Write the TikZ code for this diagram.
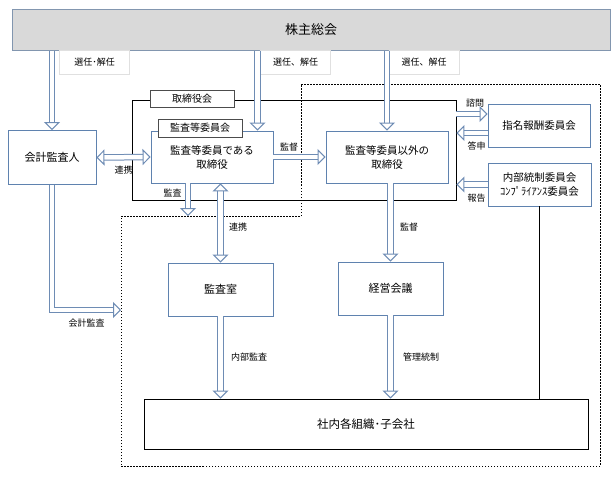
\documentclass[tikz,border=0pt]{standalone}
\usepackage{fontspec}
\setmainfont{Noto Sans CJK JP}
\usepackage{tikz}
\usetikzlibrary{arrows.meta}

\definecolor{arrblue}{RGB}{110,140,180}
\definecolor{boxblue}{RGB}{95,130,175}
\definecolor{shgray}{RGB}{217,217,217}
\definecolor{shline}{RGB}{130,150,175}

\tikzset{
	hollow/.style={draw=arrblue, line width=1pt, double=white, double distance=4.5pt, -{Triangle[open, length=8pt, width=16pt]}},
	hollowboth/.style={hollow, {Triangle[open, length=8pt, width=16pt]}-{Triangle[open, length=8pt, width=16pt]}},
	bluebox/.style={draw=boxblue, line width=.9pt, align=center, inner sep=0pt, font=\fontsize{10.5}{14}\selectfont},
	tagbox/.style={draw=black!70, fill=white, line width=1pt, inner sep=0pt, font=\fontsize{10}{12}\selectfont},
	selbox/.style={draw=black!12, fill=white, inner sep=0pt, minimum width=70pt, minimum height=24pt, font=\fontsize{9}{11}\selectfont},
	lbl/.style={inner sep=0pt, font=\fontsize{9}{11}\selectfont}
}

\begin{document}
\begin{tikzpicture}[x=1pt, y=-1pt]
	\useasboundingbox (0,0) rectangle (615,477);

	\node[draw=shline, fill=shgray, line width=1pt, minimum width=598pt, minimum height=41pt, font=\fontsize{13}{15}\selectfont] (SH) at (311,29.5) {株主総会};
	\node[selbox] (sel1) at (94.5,62) {選任･解任};
	\node[selbox] (sel2) at (295.5,62) {選任、解任};
	\node[selbox] (sel3) at (424,62) {選任、解任};

	\node[draw, line width=.9pt, minimum width=324pt, minimum height=100pt] (board) at (294,150) {};
	\node[tagbox, minimum width=84pt, minimum height=17pt] (boardtag) at (192,98.5) {取締役会};

	\node[bluebox, minimum width=88pt, minimum height=54pt, font=\fontsize{11}{14}\selectfont] (KA) at (52,157.5) {会計監査人};
	\node[bluebox, minimum width=122pt, minimum height=52pt] (AC) at (212,157) {監査等委員である\\取締役};
	\node[tagbox, minimum width=84pt, minimum height=18pt] (ACtag) at (200,128) {監査等委員会};
	\node[bluebox, minimum width=122pt, minimum height=52pt] (OD) at (387,157) {監査等委員以外の\\取締役};
	\node[bluebox, minimum width=102pt, minimum height=43pt] (NR) at (539,125.5) {指名報酬委員会};
	\node[bluebox, minimum width=103pt, minimum height=43pt] (IC) at (539.5,184.5) {内部統制委員会\\ｺﾝﾌﾟﾗｲｱﾝｽ委員会};
	\node[bluebox, minimum width=105pt, minimum height=53pt, font=\fontsize{11}{14}\selectfont] (AO) at (220.5,289.5) {監査室};
	\node[bluebox, minimum width=105pt, minimum height=53pt, font=\fontsize{11}{14}\selectfont] (MM) at (390.5,288.5) {経営会議};
	\node[draw, line width=1pt, minimum width=444pt, minimum height=50pt, font=\fontsize{11.5}{14}\selectfont] (CO) at (366,424) {社内各組織･子会社};

	\coordinate (d1) at (301,84);
	\coordinate (d2) at (600,84);
	\coordinate (d3) at (600,466);
	\coordinate (d4) at (121,466);
	\coordinate (d5) at (121,216);
	\coordinate (d6) at (301,216);
	\draw[line width=.8pt, dash pattern=on 1.5pt off 1.5pt] (d1) -- (d2) -- (d3) -- (d4) -- (d5) -- (d6) -- cycle;

	\coordinate (a2) at ([xshift=-16pt]AC.north east);
	\coordinate (kaend) at (121,310);

	\draw[hollow] (SH.south -| KA.north) -- (KA.north);
	\draw[hollow] (SH.south -| a2) -- (a2);
	\draw[hollow] (SH.south -| OD.north) -- (OD.north);

	\draw[hollowboth] (KA.east) -- (AC.west) node[lbl, pos=.5, below=8pt] {連携};
	\draw[hollow] (AC.east) -- (OD.west) node[lbl, pos=.3, above=5pt] {監督};
	\draw[hollow] ([yshift=11.5pt]NR.west -| board.east) -- ([yshift=11.5pt]NR.west) node[lbl, pos=.6, above=6pt] {諮問};
	\draw[hollow] ([yshift=-7.5pt]NR.west) -- ([yshift=-7.5pt]NR.west -| board.east) node[lbl, pos=.35, below=8pt] {答申};
	\draw[hollow] (IC.west) -- (IC.west -| board.east) node[lbl, pos=.35, below=9pt] {報告};
	\draw[line width=.8pt] (IC.south) -- (IC.south |- CO.north);

	\draw[hollow] ([xshift=-24pt]AC.south) -- ([xshift=-24pt]AC.south |- d5) node[lbl, pos=.3, left=6pt] {監査};
	\draw[hollowboth] (AO.north |- AC.south) -- (AO.north) node[lbl, pos=.55, right=8pt] {連携};
	\draw[hollow] (MM.north |- OD.south) -- (MM.north) node[lbl, pos=.56, right=9pt] {監督};
	\draw[hollow] (AO.south) -- (AO.south |- CO.north) node[lbl, pos=.5, right=10pt] {内部監査};
	\draw[hollow] (MM.south) -- (MM.south |- CO.north) node[lbl, pos=.5, right=12pt] {管理統制};
	\draw[hollow] (KA.south) |- (kaend) node[lbl, pos=.75, below=8pt] {会計監査};
\end{tikzpicture}
\end{document}
